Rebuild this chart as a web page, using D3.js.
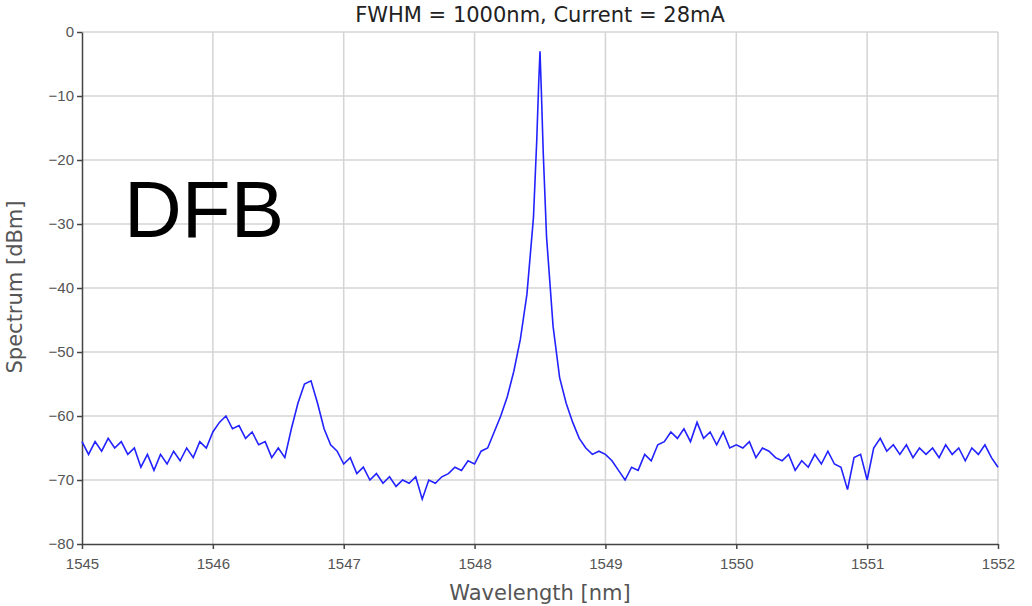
<!DOCTYPE html>
<html><head><meta charset="utf-8">
<script src="https://cdn.jsdelivr.net/npm/d3@7"></script>
<style>body{margin:0;background:#fff}</style>
</head><body><div id="chart"></div>
<script>
const wavelengths = [1545.00,1545.05,1545.10,1545.15,1545.20,1545.25,1545.30,1545.35,1545.40,1545.45,1545.50,1545.55,1545.60,1545.65,1545.70,1545.75,1545.80,1545.85,1545.90,1545.95,
1546.00,1546.05,1546.10,1546.15,1546.20,1546.25,1546.30,1546.35,1546.40,1546.45,1546.50,1546.55,1546.60,1546.65,1546.70,1546.75,1546.80,1546.85,1546.90,1546.95,
1547.00,1547.05,1547.10,1547.15,1547.20,1547.25,1547.30,1547.35,1547.40,1547.45,1547.50,1547.55,1547.60,1547.65,1547.70,1547.75,1547.80,1547.85,1547.90,1547.95,
1548.00,1548.05,1548.10,1548.15,1548.20,1548.25,1548.30,1548.35,1548.40,1548.45,1548.475,1548.49,1548.50,1548.51,1548.525,1548.55,1548.60,1548.65,1548.70,1548.75,1548.80,1548.85,1548.90,1548.95,
1549.00,1549.05,1549.10,1549.15,1549.20,1549.25,1549.30,1549.35,1549.40,1549.45,1549.50,1549.55,1549.60,1549.65,1549.70,1549.75,1549.80,1549.85,1549.90,1549.95,
1550.00,1550.05,1550.10,1550.15,1550.20,1550.25,1550.30,1550.35,1550.40,1550.45,1550.50,1550.55,1550.60,1550.65,1550.70,1550.75,1550.80,1550.85,1550.90,1550.95,
1551.00,1551.05,1551.10,1551.15,1551.20,1551.25,1551.30,1551.35,1551.40,1551.45,1551.50,1551.55,1551.60,1551.65,1551.70,1551.75,1551.80,1551.85,1551.90,1551.95,1552.00];
const spectrum = [-64,-66,-64,-65.5,-63.5,-65,-64,-66,-65,-68,-66,-68.5,-66,-67.5,-65.5,-67,-65,-66.5,-64,-65,
-62.5,-61,-60,-62,-61.5,-63.5,-62.5,-64.5,-64,-66.5,-65,-66.5,-62,-58,-55,-54.5,-58,-62,-64.5,-65.5,
-67.5,-66.5,-69,-68,-70,-69,-70.5,-69.5,-71,-70,-70.5,-69.5,-73,-70,-70.5,-69.5,-69,-68,-68.5,-67,
-67.5,-65.5,-65,-62.5,-60,-57,-53,-48,-41,-29,-17,-8,-3,-9,-19,-32,-46,-54,-58,-61,-63.5,-65,-66,-65.5,
-66,-67,-68.5,-70,-68,-68.5,-66,-67,-64.5,-64,-62.5,-63.5,-62,-64,-61,-63.5,-62.5,-64.5,-62.5,-65,
-64.5,-65,-64,-66.5,-65,-65.5,-66.5,-67,-66,-68.5,-67,-68,-66,-67.5,-65.5,-67.5,-68,-71.5,-66.5,-66,
-70,-65,-63.5,-65.5,-64.5,-66,-64.5,-66.5,-65,-66,-65,-66.5,-64.5,-66,-65,-67,-65,-66,-64.5,-66.5,-68];
const xTicks = [1545,1546,1547,1548,1549,1550,1551,1552];
const yTicks = [0,-10,-20,-30,-40,-50,-60,-70,-80];

const width = 1032, height = 606;
const margins = { top: 32, right: 34, bottom: 62, left: 82 };

const svg = d3.select("#chart").append("svg")
    .attr("width", width).attr("height", height)
    .style("font-family", "'DejaVu Sans', sans-serif");

const x = d3.scaleLinear().domain([1545, 1552]).range([margins.left, width - margins.right]);
const y = d3.scaleLinear().domain([-80, 0]).range([height - margins.bottom, margins.top]);

// grid
svg.append("g").selectAll("line").data(xTicks.slice(1)).join("line")
    .attr("x1", d => x(d)).attr("x2", d => x(d))
    .attr("y1", y(0)).attr("y2", y(-80))
    .attr("stroke", "#d4d4d4").attr("stroke-width", 1.5);
svg.append("g").selectAll("line").data(yTicks.slice(0, -1)).join("line")
    .attr("x1", x(1545)).attr("x2", x(1552))
    .attr("y1", d => y(d)).attr("y2", d => y(d))
    .attr("stroke", "#d4d4d4").attr("stroke-width", 1.5);

const gx = svg.append("g").attr("transform", `translate(0,${y(-80)})`)
    .call(d3.axisBottom(x).tickValues(xTicks).tickFormat(d3.format("d")).tickSize(5).tickSizeOuter(0));
const gy = svg.append("g").attr("transform", `translate(${x(1545)},0)`)
    .call(d3.axisLeft(y).tickValues(yTicks).tickSize(5).tickSizeOuter(0));
[gx, gy].forEach(g => {
    g.selectAll("path,line").attr("stroke", "#444").attr("stroke-width", 1.5);
    g.selectAll("text").attr("fill", "#555").style("font-size", "15px");
});
gx.selectAll("text").attr("dy", "1.1em");

const line = d3.line().x((d, i) => x(wavelengths[i])).y(d => y(d));
svg.append("path").datum(spectrum)
    .attr("d", line).attr("fill", "none")
    .attr("stroke", "#2222ff").attr("stroke-width", 1.6);

svg.append("text").attr("x", 540).attr("y", 22).attr("text-anchor", "middle")
    .attr("fill", "#222").style("font-size", "21px").text("FWHM = 1000nm, Current = 28mA");
svg.append("text").attr("x", 540).attr("y", 600).attr("text-anchor", "middle")
    .attr("fill", "#555").style("font-size", "21px").text("Wavelength [nm]");
svg.append("text").attr("transform", "translate(22,287) rotate(-90)").attr("text-anchor", "middle")
    .attr("fill", "#555").style("font-size", "21px").text("Spectrum [dBm]");
svg.append("text").attr("x", 124).attr("y", 237)
    .attr("fill", "#000").style("font-family", "'Liberation Sans', Arial, sans-serif")
    .style("font-size", "80px").text("DFB");
</script></body></html>
